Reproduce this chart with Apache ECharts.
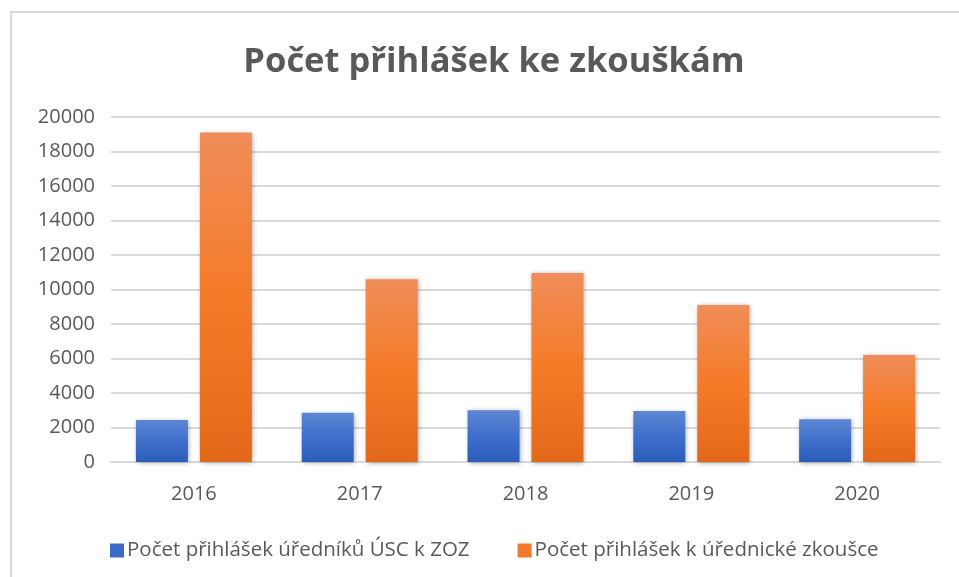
<!DOCTYPE html>
<html>
<head>
<meta charset="utf-8">
<script src="https://cdn.jsdelivr.net/npm/echarts@6/dist/echarts.min.js"></script>
<style>
  html, body { margin: 0; padding: 0; background: #fff; }
  #frame {
    position: absolute; left: 10px; top: 11px; width: 960px; height: 600px;
    border-left: 2px solid #d9d9d9; border-top: 2px solid #d9d9d9;
  }
  #chart { position: absolute; left: 0; top: 0; width: 959px; height: 577px; }
</style>
</head>
<body>
<div id="frame"></div>
<div id="chart"></div>
<script>
const years = ["2016", "2017", "2018", "2019", "2020"];
const urednikuUsc = [2440, 2860, 3000, 2960, 2480];
const urednickaZkouska = [19100, 10600, 10950, 9100, 6200];
const seriesNames = ["Počet přihlášek úředníků ÚSC k ZOZ", "Počet přihlášek k úřednické zkoušce"];

const textColor = "#595959";
const font = "'Open Sans', sans-serif";

const myChart = echarts.init(document.getElementById("chart"));

const blueFill = new echarts.graphic.LinearGradient(0, 0, 0, 1, [
  { offset: 0, color: "#5d87d4" },
  { offset: 0.5, color: "#3f6fcb" },
  { offset: 1, color: "#2b5cbc" },
]);
const orangeFill = new echarts.graphic.LinearGradient(0, 0, 0, 1, [
  { offset: 0, color: "#f08d59" },
  { offset: 0.5, color: "#f47b27" },
  { offset: 1, color: "#e3691a" },
]);
const shadow = {
  shadowBlur: 5,
  shadowColor: "rgba(0,0,0,0.35)",
  shadowOffsetX: 1,
  shadowOffsetY: 1,
};

const option = {
  animation: false,
  title: {
    text: "Počet přihlášek ke zkouškám",
    left: 489,
    textAlign: "center",
    top: 40,
    textStyle: {
      color: textColor,
      fontFamily: font,
      fontWeight: "bold",
      fontSize: 34.5,
    },
  },
  legend: {
    top: 535,
    left: 105,
    itemWidth: 14,
    itemHeight: 14,
    itemGap: 48,
    icon: "rect",
    textStyle: { color: textColor, fontFamily: font, fontSize: 20.5, padding: [0, 0, 0, -2] },
    data: [
      { name: seriesNames[0], itemStyle: { color: "#3a6bc8" } },
      { name: seriesNames[1], itemStyle: { color: "#f27a2a" } },
    ],
  },
  grid: {
    left: 111,
    right: 19,
    top: 117,
    bottom: 115,
  },
  xAxis: {
    type: "category",
    data: years,
    axisLine: { lineStyle: { color: "#d9d9d9", width: 2 } },
    axisTick: { show: false },
    axisLabel: { color: textColor, fontFamily: font, fontSize: 20, margin: 22 },
  },
  yAxis: {
    type: "value",
    min: 0,
    max: 20000,
    interval: 2000,
    axisLine: { show: false },
    axisTick: { show: false },
    splitLine: { lineStyle: { color: "#d9d9d9", width: 2 } },
    axisLabel: {
      color: textColor,
      fontFamily: font,
      fontSize: 20,
      margin: 16,
      formatter: (v) => String(v),
    },
  },
  series: [
    {
      name: seriesNames[0],
      type: "bar",
      data: urednikuUsc,
      barWidth: 52,
      barGap: "23%",
      itemStyle: Object.assign({ color: blueFill }, shadow),
    },
    {
      name: seriesNames[1],
      type: "bar",
      data: urednickaZkouska,
      barWidth: 52,
      itemStyle: Object.assign({ color: orangeFill }, shadow),
    },
  ],
};

myChart.setOption(option);
</script>
</body>
</html>
